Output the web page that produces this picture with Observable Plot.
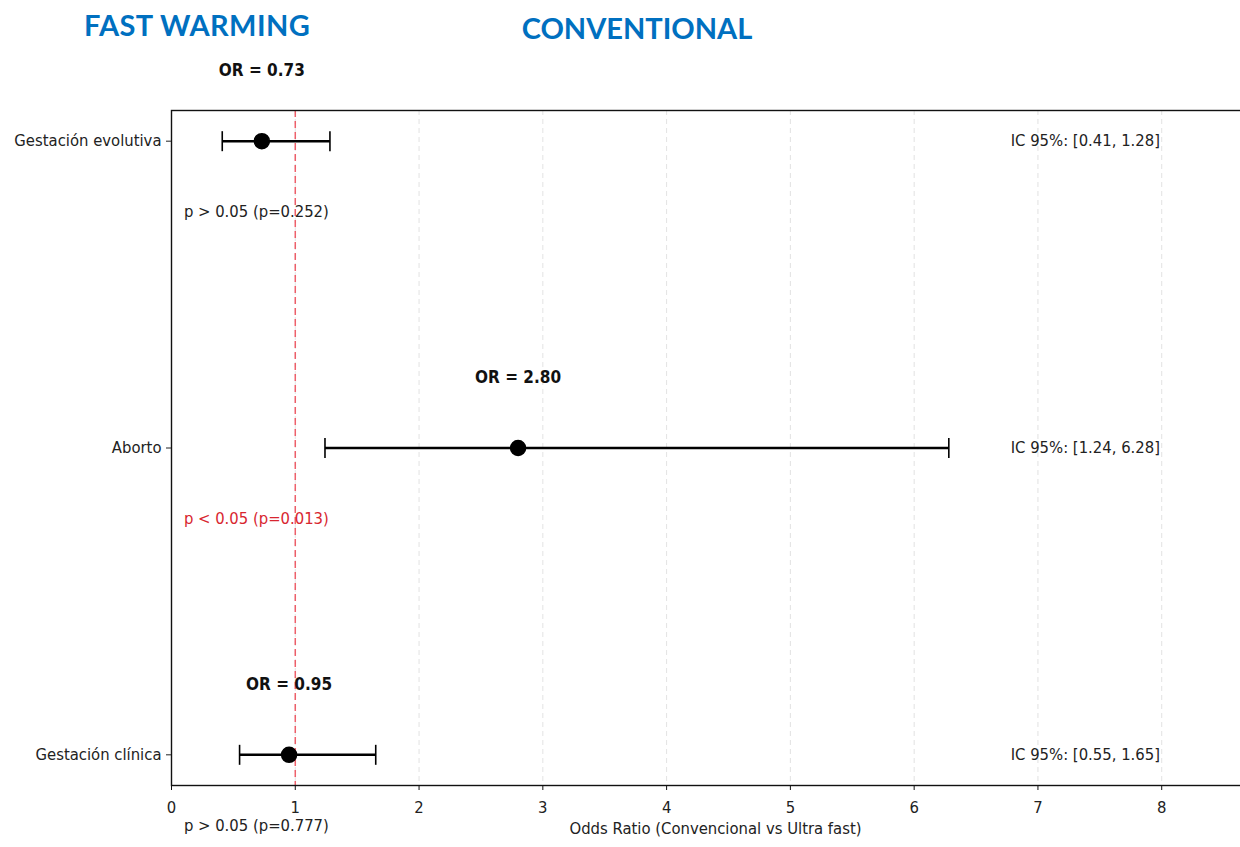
<!DOCTYPE html>
<html>
<head>
<meta charset="utf-8">
<script src="https://cdn.jsdelivr.net/npm/d3@7"></script>
<script src="https://cdn.jsdelivr.net/npm/@observablehq/plot@0.6"></script>
<style>
  html, body { margin: 0; padding: 0; background: #fff; }
  #wrap { width: 1240px; height: 847px; overflow: hidden; position: relative; }
  #header { position: relative; height: 50px; }
  .ttl { position: absolute; font-family: Lato, "Open Sans", sans-serif; font-weight: 700; font-size: 29px; color: #0070C0; white-space: nowrap; transform: translateX(-50%); line-height: 1; }
  #chart svg { display: block; max-width: none !important; }
</style>
</head>
<body>
<div id="wrap">
  <div id="header">
    <div class="ttl" id="t1" style="left:197px; top:10px; letter-spacing:0.4px;">FAST WARMING</div>
    <div class="ttl" id="t2" style="left:637px; top:13px;">CONVENTIONAL</div>
  </div>
  <div id="chart"></div>
</div>
<script>
const categories = ["Gestación clínica", "Aborto", "Gestación evolutiva"];
const oddsRatio = [0.95, 2.80, 0.73];
const ciLow = [0.55, 1.24, 0.41];
const ciHigh = [1.65, 6.28, 1.28];
const pValues = [0.777, 0.013, 0.252];
const xTicks = [0, 1, 2, 3, 4, 5, 6, 7, 8];
const xLabel = "Odds Ratio (Convencional vs Ultra fast)";

const rows = categories.map((c, i) => ({
  cat: c, i, or: oddsRatio[i], lo: ciLow[i], hi: ciHigh[i], p: pValues[i],
  orText: `OR = ${oddsRatio[i].toFixed(2)}`,
  ciText: `IC 95%: [${ciLow[i].toFixed(2)}, ${ciHigh[i].toFixed(2)}]`,
  pText: pValues[i] < 0.05 ? `p < 0.05 (p=${pValues[i].toFixed(3)})` : `p > 0.05 (p=${pValues[i].toFixed(3)})`,
  sig: pValues[i] < 0.05
}));
const caps = rows.flatMap(d => [{ x: d.lo, i: d.i }, { x: d.hi, i: d.i }]);

// vertical cap symbol for the error bars
const capSymbol = { draw(ctx) { ctx.moveTo(0, -10); ctx.lineTo(0, 10); } };

const font = "'DejaVu Sans Condensed', 'DejaVu Sans', sans-serif";
const off = 0.23;
const fs = 16.5;

const chart = Plot.plot({
  width: 1259,
  height: 797,
  marginLeft: 171,
  marginRight: 0,
  marginTop: 60,
  marginBottom: 62,
  style: { fontFamily: font, fontSize: fs + "px", color: "#222", background: "#fff", overflow: "visible", maxWidth: "none" },
  x: { domain: [0, 8.79], label: null },
  y: { domain: [-0.1, 2.1], label: null },
  marks: [
    Plot.ruleX(xTicks.slice(1), { stroke: "#cfcfcf", strokeOpacity: 0.6, strokeDasharray: "5,4", strokeWidth: 1 }),
    Plot.ruleX([1], { stroke: "#ec4552", strokeOpacity: 0.85, strokeDasharray: "7,4", strokeWidth: 1.5 }),
    Plot.frame({ stroke: "#111", strokeWidth: 1.4 }),
    Plot.axisX({ ticks: xTicks, tickSize: 5, tickPadding: 11, fontSize: fs, label: null, stroke: "#111", fill: "#222" }),
    Plot.axisY({ ticks: [0, 1, 2], tickSize: 5, tickPadding: 5, fontSize: fs, label: null, fill: "#222", tickFormat: (d) => categories[d] }),
    Plot.link(rows, { x1: "lo", x2: "hi", y1: "i", y2: "i", stroke: "black", strokeWidth: 2.4 }),
    Plot.dot(caps, { x: "x", y: "i", symbol: capSymbol, stroke: "black", strokeWidth: 1.6, fill: "none" }),
    Plot.dot(rows, { x: "or", y: "i", r: 7.5, fill: "black", stroke: "black" }),
    Plot.text(rows, { x: "or", y: (d) => d.i + off, text: "orText", fontWeight: "bold", fontSize: 17, fill: "#111" }),
    Plot.text(rows, { x: () => 6.78, y: "i", text: "ciText", textAnchor: "start", fontSize: fs, fill: "#222" }),
    Plot.text(rows, { x: () => 0.1, y: (d) => d.i - off, text: "pText", textAnchor: "start", fontSize: fs, fill: (d) => d.sig ? "#d8262f" : "#222" }),
    Plot.text([xLabel], { frameAnchor: "bottom", dy: 48, fontSize: fs, fill: "#222" })
  ]
});
document.getElementById("chart").appendChild(chart);
</script>
</body>
</html>
